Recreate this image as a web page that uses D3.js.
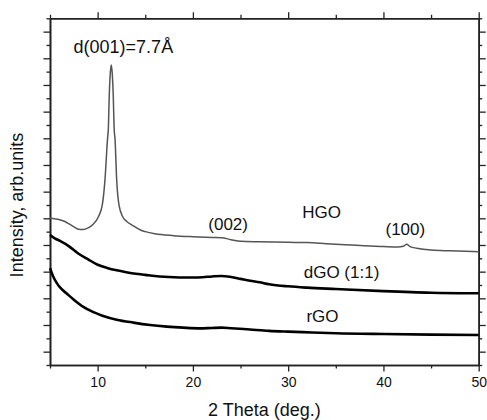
<!DOCTYPE html>
<html>
<head>
<meta charset="utf-8">
<script src="https://cdn.jsdelivr.net/npm/d3@7"></script>
<style>
  html, body { margin: 0; padding: 0; background: #fff; }
  svg { display: block; }
  text { font-family: "Liberation Sans", Arial, sans-serif; fill: #111; }
</style>
</head>
<body>
<svg id="chart" width="487" height="420"></svg>
<script>
// ---- Data (2 Theta in degrees, intensity in arbitrary units) ----
const hgoTheta = [5.0, 5.5, 6.0, 6.5, 7.0, 7.5, 8.0, 8.5, 9.0, 9.5, 10.07, 10.49, 10.77, 11.03, 11.13, 11.22, 11.33, 11.43, 11.53, 11.64, 11.73, 11.83, 12.0, 12.24, 12.63, 13.0, 13.74, 14.5, 15.0, 16.0, 18.0, 20.0, 22.0, 23.0, 24.0, 25.0, 27.0, 30.0, 32.0, 34.0, 36.0, 38.0, 40.0, 41.5, 42.1, 42.45, 42.8, 43.5, 45.0, 47.0, 50.0];
const hgoValues = [5.50, 5.48, 5.45, 5.39, 5.29, 5.18, 5.09, 5.08, 5.14, 5.27, 5.55, 6.0, 6.94, 8.44, 8.9, 10.1, 10.95, 11.25, 10.95, 10.1, 8.9, 8.44, 6.94, 6.0, 5.56, 5.40, 5.22, 5.06, 5.0, 4.92, 4.85, 4.81, 4.78, 4.77, 4.70, 4.64, 4.62, 4.60, 4.59, 4.55, 4.51, 4.47, 4.44, 4.42, 4.45, 4.53, 4.44, 4.38, 4.31, 4.28, 4.25];

const dgoTheta = [5.0, 5.5, 6.0, 7.0, 8.0, 9.0, 10.0, 11.0, 12.0, 13.0, 14.0, 15.0, 16.0, 17.0, 18.0, 19.0, 20.0, 21.0, 22.0, 23.0, 24.0, 25.0, 26.0, 27.0, 28.0, 30.0, 32.0, 35.0, 40.0, 45.0, 50.0];
const dgoValues = [4.875, 4.75, 4.66, 4.45, 4.17, 3.96, 3.76, 3.64, 3.55, 3.48, 3.42, 3.38, 3.34, 3.31, 3.29, 3.28, 3.28, 3.29, 3.32, 3.34, 3.30, 3.23, 3.16, 3.10, 3.03, 2.95, 2.90, 2.85, 2.77, 2.71, 2.69];

const rgoTheta = [5.0, 5.3, 5.7, 6.2, 6.75, 7.5, 8.5, 9.5, 10.5, 12.0, 13.75, 15.5, 17.25, 19.0, 20.75, 22.0, 23.0, 24.0, 26.0, 28.0, 30.0, 32.5, 35.0, 40.0, 45.0, 50.0];
const rgoValues = [3.63, 3.35, 3.08, 2.85, 2.68, 2.45, 2.18, 1.99, 1.85, 1.70, 1.59, 1.50, 1.44, 1.40, 1.375, 1.39, 1.40, 1.38, 1.33, 1.28, 1.25, 1.22, 1.19, 1.16, 1.14, 1.125];

const xMajorTicks = [10, 20, 30, 40, 50];
const xMinorTicks = [5, 15, 25, 35, 45];
const yMajorTicks = [0.5, 1.5, 2.5, 3.5, 4.5, 5.5, 6.5, 7.5, 8.5, 9.5, 10.5, 11.5, 12.5];
const yMinorTicks = [0, 1, 2, 3, 4, 5, 6, 7, 8, 9, 10, 11, 12, 13];

const seriesNames = ["HGO", "dGO (1:1)", "rGO"];
const annotations = [
  { text: "d(001)=7.7\u00C5", theta: 12.7, value: 11.7, size: 18 },
  { text: "(002)", theta: 23.7, value: 5.08, size: 17 },
  { text: "HGO", theta: 33.5, value: 5.5, size: 17 },
  { text: "(100)", theta: 42.3, value: 4.87, size: 17 },
  { text: "dGO (1:1)", theta: 35.6, value: 3.27, size: 17 },
  { text: "rGO", theta: 33.6, value: 1.6, size: 17 }
];

// ---- Layout ----
const svg = d3.select("#chart");
const L = 50, R = 478.7, T = 18.3, B = 365;

const x = d3.scaleLinear().domain([5, 50]).range([L, R]);
const y = d3.scaleLinear().domain([0, 13]).range([B, T]);

const axisColor = "#222";

function drawAxis(gen, transform) {
  const g = svg.append("g").attr("transform", transform).call(gen);
  g.selectAll("path.domain").attr("stroke", axisColor).attr("stroke-width", 1.6);
  g.selectAll(".tick line").attr("stroke", axisColor).attr("stroke-width", 1.3);
  g.selectAll(".tick text").style("font-family", "'Liberation Sans', Arial, sans-serif").style("font-size", "14px").attr("fill", "#111");
  return g;
}

// bottom
drawAxis(d3.axisBottom(x).tickValues(xMinorTicks).tickSize(3.5).tickSizeOuter(0).tickFormat(""), `translate(0,${B})`);
const bx = drawAxis(d3.axisBottom(x).tickValues(xMajorTicks).tickSize(6.5).tickSizeOuter(0).tickFormat(d3.format("d")), `translate(0,${B})`);
bx.selectAll(".tick text").attr("y", 12).attr("dy", "0.71em");
// top
drawAxis(d3.axisTop(x).tickValues(xMinorTicks).tickSize(3.5).tickSizeOuter(0).tickFormat(""), `translate(0,${T})`);
drawAxis(d3.axisTop(x).tickValues(xMajorTicks).tickSize(6).tickSizeOuter(0).tickFormat(""), `translate(0,${T})`);
// left
drawAxis(d3.axisLeft(y).tickValues(yMinorTicks).tickSize(3.5).tickSizeOuter(0).tickFormat(""), `translate(${L},0)`);
drawAxis(d3.axisLeft(y).tickValues(yMajorTicks).tickSize(6.5).tickSizeOuter(0).tickFormat(""), `translate(${L},0)`);
// right
drawAxis(d3.axisRight(y).tickValues(yMinorTicks).tickSize(3.5).tickSizeOuter(0).tickFormat(""), `translate(${R},0)`);
drawAxis(d3.axisRight(y).tickValues(yMajorTicks).tickSize(7).tickSizeOuter(0).tickFormat(""), `translate(${R},0)`);

// ---- Lines ----
const line = d3.line().x(d => x(d[0])).y(d => y(d[1])).curve(d3.curveMonotoneX);
const series = [
  { name: seriesNames[0], pts: d3.zip(hgoTheta, hgoValues), color: "#555", width: 1.5 },
  { name: seriesNames[1], pts: d3.zip(dgoTheta, dgoValues), color: "#000", width: 2.6 },
  { name: seriesNames[2], pts: d3.zip(rgoTheta, rgoValues), color: "#000", width: 2.6 }
];
svg.append("g").selectAll("path").data(series).join("path")
  .attr("d", d => line(d.pts))
  .attr("fill", "none")
  .attr("stroke", d => d.color)
  .attr("stroke-width", d => d.width)
  .attr("stroke-linejoin", "round");

// ---- Annotations ----
svg.append("g").selectAll("text").data(annotations).join("text")
  .attr("x", d => x(d.theta))
  .attr("y", d => y(d.value))
  .attr("text-anchor", "middle")
  .style("font-size", d => d.size + "px")
  .text(d => d.text);

// ---- Axis titles ----
svg.append("text")
  .attr("x", (L + R) / 2)
  .attr("y", 416)
  .attr("text-anchor", "middle")
  .style("font-size", "18px")
  .text("2 Theta (deg.)");

svg.append("text")
  .attr("transform", `translate(23,205) rotate(-90)`)
  .attr("text-anchor", "middle")
  .style("font-size", "18px")
  .text("Intensity, arb.units");
</script>
</body>
</html>
